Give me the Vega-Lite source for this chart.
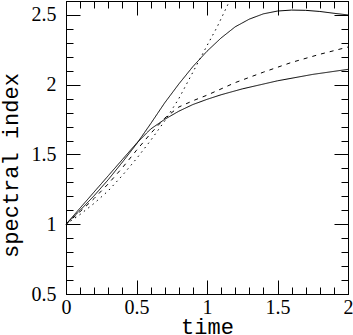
{
  "$schema": "https://vega.github.io/schema/vega-lite/v6.json",
  "autosize": "none",
  "width": 282,
  "height": 293,
  "padding": {"left": 66, "top": 1, "right": 5, "bottom": 41},
  "background": "white",
  "config": {
    "view": {"stroke": "black", "strokeWidth": 1},
    "axis": {"grid": false, "domain": false, "tickColor": "black", "tickWidth": 1, "labelColor": "black", "titleColor": "black"}
  },
  "data": {
    "values": [
      {"t": 0.0, "v": 1.0, "s": "A"},
      {"t": 0.1, "v": 1.1, "s": "A"},
      {"t": 0.2, "v": 1.205, "s": "A"},
      {"t": 0.3, "v": 1.32, "s": "A"},
      {"t": 0.4, "v": 1.445, "s": "A"},
      {"t": 0.5, "v": 1.575, "s": "A"},
      {"t": 0.6, "v": 1.72, "s": "A"},
      {"t": 0.7, "v": 1.87, "s": "A"},
      {"t": 0.8, "v": 2.005, "s": "A"},
      {"t": 0.9, "v": 2.13, "s": "A"},
      {"t": 1.0, "v": 2.24, "s": "A"},
      {"t": 1.1, "v": 2.335, "s": "A"},
      {"t": 1.2, "v": 2.415, "s": "A"},
      {"t": 1.3, "v": 2.47, "s": "A"},
      {"t": 1.4, "v": 2.508, "s": "A"},
      {"t": 1.5, "v": 2.528, "s": "A"},
      {"t": 1.6, "v": 2.535, "s": "A"},
      {"t": 1.7, "v": 2.533, "s": "A"},
      {"t": 1.8, "v": 2.525, "s": "A"},
      {"t": 1.9, "v": 2.512, "s": "A"},
      {"t": 2.0, "v": 2.5, "s": "A"},
      {"t": 0.0, "v": 1.0, "s": "B"},
      {"t": 0.1, "v": 1.116, "s": "B"},
      {"t": 0.2, "v": 1.232, "s": "B"},
      {"t": 0.3, "v": 1.348, "s": "B"},
      {"t": 0.4, "v": 1.464, "s": "B"},
      {"t": 0.5, "v": 1.58, "s": "B"},
      {"t": 0.6, "v": 1.682, "s": "B"},
      {"t": 0.7, "v": 1.752, "s": "B"},
      {"t": 0.8, "v": 1.81, "s": "B"},
      {"t": 0.9, "v": 1.858, "s": "B"},
      {"t": 1.0, "v": 1.895, "s": "B"},
      {"t": 1.1, "v": 1.928, "s": "B"},
      {"t": 1.25, "v": 1.97, "s": "B"},
      {"t": 1.5, "v": 2.028, "s": "B"},
      {"t": 1.75, "v": 2.074, "s": "B"},
      {"t": 2.0, "v": 2.11, "s": "B"},
      {"t": 0.0, "v": 1.0, "s": "dot"},
      {"t": 0.1, "v": 1.07, "s": "dot"},
      {"t": 0.2, "v": 1.15, "s": "dot"},
      {"t": 0.3, "v": 1.24, "s": "dot"},
      {"t": 0.4, "v": 1.35, "s": "dot"},
      {"t": 0.5, "v": 1.47, "s": "dot"},
      {"t": 0.6, "v": 1.6, "s": "dot"},
      {"t": 0.7, "v": 1.74, "s": "dot"},
      {"t": 0.8, "v": 1.9, "s": "dot"},
      {"t": 0.9, "v": 2.09, "s": "dot"},
      {"t": 1.0, "v": 2.28, "s": "dot"},
      {"t": 1.07, "v": 2.41, "s": "dot"},
      {"t": 1.16, "v": 2.6, "s": "dot"},
      {"t": 0.0, "v": 1.0, "s": "dash"},
      {"t": 0.1, "v": 1.09, "s": "dash"},
      {"t": 0.2, "v": 1.185, "s": "dash"},
      {"t": 0.3, "v": 1.29, "s": "dash"},
      {"t": 0.4, "v": 1.405, "s": "dash"},
      {"t": 0.5, "v": 1.53, "s": "dash"},
      {"t": 0.6, "v": 1.65, "s": "dash"},
      {"t": 0.7, "v": 1.76, "s": "dash"},
      {"t": 0.8, "v": 1.84, "s": "dash"},
      {"t": 0.9, "v": 1.885, "s": "dash"},
      {"t": 1.0, "v": 1.925, "s": "dash"},
      {"t": 1.2, "v": 2.015, "s": "dash"},
      {"t": 1.4, "v": 2.09, "s": "dash"},
      {"t": 1.6, "v": 2.16, "s": "dash"},
      {"t": 1.8, "v": 2.218, "s": "dash"},
      {"t": 2.0, "v": 2.27, "s": "dash"}
    ]
  },
  "resolve": {"axis": {"x": "independent", "y": "independent"}},
  "layer": [
    {
      "mark": {"type": "line", "color": "black", "strokeWidth": 1},
      "encoding": {
        "x": {"field": "t", "type": "quantitative", "scale": {"domain": [0, 2], "nice": false, "zero": false},
          "axis": {"orient": "bottom", "values": [0, 0.5, 1, 1.5, 2], "format": "~g", "ticks": false, "labelPadding": 3,
            "labelFont": "Liberation Serif", "labelFontSize": 20, "labelFlush": false, "labelOverlap": false, "labelBound": false,
            "title": "time", "titleFont": "Liberation Mono", "titleFontSize": 22, "titleFontWeight": "normal",
            "titleBaseline": "alphabetic", "titleX": 141, "titleY": 39}},
        "y": {"field": "v", "type": "quantitative", "scale": {"domain": [0.5, 2.6], "nice": false, "zero": false},
          "axis": {"orient": "left", "values": [0.5, 1, 1.5, 2, 2.5], "format": "~g", "ticks": false, "labelPadding": 10,
            "labelFont": "Liberation Serif", "labelFontSize": 20, "labelFlush": false, "labelOverlap": false, "labelBound": false,
            "title": "spectral index", "titleFont": "Liberation Mono", "titleFontSize": 22, "titleFontWeight": "normal",
            "titleBaseline": "alphabetic", "titleAngle": -90, "titleX": -49, "titleY": 164}},
        "strokeDash": {"field": "s", "type": "nominal", "legend": null,
          "scale": {"domain": ["A", "B", "dash", "dot"], "range": [[1, 0], [1, 0], [4, 5], [1.5, 4]]}}
      }
    },
    {
      "mark": {"type": "line", "opacity": 0},
      "encoding": {
        "x": {"field": "t", "type": "quantitative",
          "axis": {"orient": "bottom", "values": [0, 0.1, 0.2, 0.3, 0.4, 0.5, 0.6, 0.7, 0.8, 0.9, 1, 1.1, 1.2, 1.3, 1.4, 1.5, 1.6, 1.7, 1.8, 1.9, 2], "tickSize": -7, "labels": false, "title": null}},
        "y": {"field": "v", "type": "quantitative",
          "axis": {"orient": "left", "values": [0.5, 0.6, 0.7, 0.8, 0.9, 1, 1.1, 1.2, 1.3, 1.4, 1.5, 1.6, 1.7, 1.8, 1.9, 2, 2.1, 2.2, 2.3, 2.4, 2.5, 2.6], "tickSize": -7, "labels": false, "title": null}},
        "detail": {"field": "s", "type": "nominal"}
      }
    },
    {
      "mark": {"type": "line", "opacity": 0},
      "encoding": {
        "x": {"field": "t", "type": "quantitative",
          "axis": {"orient": "bottom", "values": [0, 0.5, 1, 1.5, 2], "tickSize": -14, "labels": false, "title": null}},
        "y": {"field": "v", "type": "quantitative",
          "axis": {"orient": "left", "values": [0.5, 1, 1.5, 2, 2.5], "tickSize": -14, "labels": false, "title": null}},
        "detail": {"field": "s", "type": "nominal"}
      }
    },
    {
      "mark": {"type": "line", "opacity": 0},
      "encoding": {
        "x": {"field": "t", "type": "quantitative",
          "axis": {"orient": "top", "values": [0, 0.1, 0.2, 0.3, 0.4, 0.5, 0.6, 0.7, 0.8, 0.9, 1, 1.1, 1.2, 1.3, 1.4, 1.5, 1.6, 1.7, 1.8, 1.9, 2], "tickSize": -7, "labels": false, "title": null}},
        "y": {"field": "v", "type": "quantitative",
          "axis": {"orient": "right", "values": [0.5, 0.6, 0.7, 0.8, 0.9, 1, 1.1, 1.2, 1.3, 1.4, 1.5, 1.6, 1.7, 1.8, 1.9, 2, 2.1, 2.2, 2.3, 2.4, 2.5, 2.6], "tickSize": -7, "labels": false, "title": null}},
        "detail": {"field": "s", "type": "nominal"}
      }
    },
    {
      "mark": {"type": "line", "opacity": 0},
      "encoding": {
        "x": {"field": "t", "type": "quantitative",
          "axis": {"orient": "top", "values": [0, 0.5, 1, 1.5, 2], "tickSize": -14, "labels": false, "title": null}},
        "y": {"field": "v", "type": "quantitative",
          "axis": {"orient": "right", "values": [0.5, 1, 1.5, 2, 2.5], "tickSize": -14, "labels": false, "title": null}},
        "detail": {"field": "s", "type": "nominal"}
      }
    }
  ]
}
